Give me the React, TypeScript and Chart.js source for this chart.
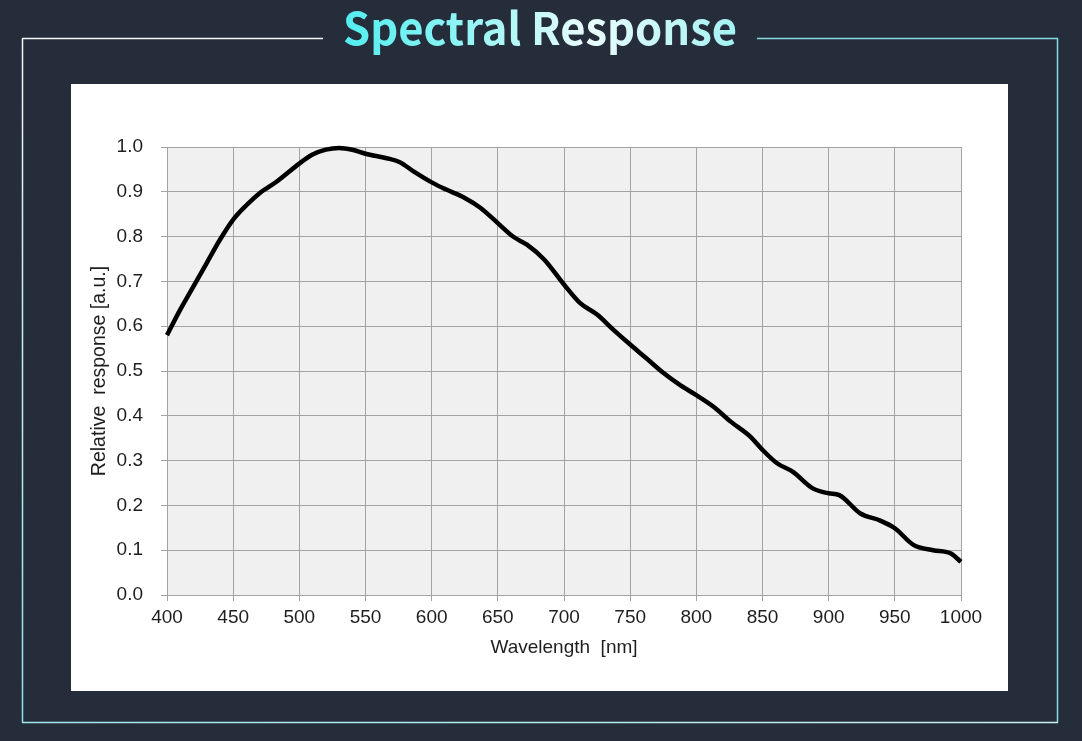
import React, { useEffect, useRef } from "react";
import { Chart, registerables } from "chart.js";

Chart.register(...registerables);

const wavelengths = [
  400, 410, 420, 430, 440, 450, 460, 470, 483, 500, 510, 520, 530, 540, 550,
  566, 576, 586, 600, 611, 624, 637, 650, 662, 672, 685, 700, 712, 725, 737,
  750, 762, 775, 787, 800, 813, 826, 841, 850, 861, 873, 888, 900, 908, 924,
  939, 950, 964, 979, 992, 1000,
];
const response = [
  0.58, 0.637, 0.689, 0.741, 0.793, 0.838, 0.87, 0.897, 0.923, 0.963, 0.983,
  0.994, 0.998, 0.994, 0.985, 0.975, 0.966, 0.946, 0.921, 0.905, 0.888, 0.864,
  0.83, 0.799, 0.782, 0.749, 0.693, 0.652, 0.626, 0.593, 0.559, 0.529, 0.496,
  0.47, 0.446, 0.42, 0.387, 0.353, 0.324, 0.294, 0.275, 0.238, 0.227, 0.223,
  0.182, 0.166, 0.149, 0.112, 0.1, 0.093, 0.074,
];
const xTicks = [400, 450, 500, 550, 600, 650, 700, 750, 800, 850, 900, 950, 1000];
const yTicks = [0, 0.1, 0.2, 0.3, 0.4, 0.5, 0.6, 0.7, 0.8, 0.9, 1.0];
const titleText = "Spectral Response";
const xTitle = "Wavelength  [nm]";
const yTitle = "Relative  response [a.u.]";

const W = 1082;
const H = 741;

const framePlugin = {
  id: "framePlugin",
  beforeDraw(chart: any) {
    const ctx = chart.ctx as CanvasRenderingContext2D;
    ctx.save();
    // background
    ctx.fillStyle = "#262d3a";
    ctx.fillRect(0, 0, W, H);
    // frame
    ctx.lineWidth = 1.5;
    const lv = ctx.createLinearGradient(0, 38, 0, 722);
    lv.addColorStop(0, "#f4f8f8");
    lv.addColorStop(1, "#8fe3e8");
    ctx.strokeStyle = lv;
    ctx.beginPath();
    ctx.moveTo(22.5, 38.5);
    ctx.lineTo(22.5, 722.5);
    ctx.stroke();
    ctx.strokeStyle = "#f0f6f6";
    ctx.beginPath();
    ctx.moveTo(22, 38.5);
    ctx.lineTo(323, 38.5);
    ctx.stroke();
    ctx.strokeStyle = "#86dde4";
    ctx.beginPath();
    ctx.moveTo(757, 38.5);
    ctx.lineTo(1057.5, 38.5);
    ctx.lineTo(1057.5, 722.5);
    ctx.stroke();
    const hb = ctx.createLinearGradient(22, 0, 1057, 0);
    hb.addColorStop(0, "#9fe8ec");
    hb.addColorStop(1, "#c8f0f2");
    ctx.strokeStyle = hb;
    ctx.beginPath();
    ctx.moveTo(22, 722.5);
    ctx.lineTo(1058, 722.5);
    ctx.stroke();
    // title
    ctx.font = "bold 45px 'Noto Sans CJK SC', 'Noto Sans', sans-serif";
    ctx.textBaseline = "alphabetic";
    ctx.textAlign = "left";
    const tw = ctx.measureText(titleText).width;
    const targetW = 394;
    const sx = targetW / tw;
    ctx.save();
    ctx.translate(343, 44.5);
    ctx.scale(sx, 1);
    const tg = ctx.createLinearGradient(0, 0, tw, 0);
    tg.addColorStop(0, "#52eef0");
    tg.addColorStop(0.3, "#8ff4f4");
    tg.addColorStop(0.62, "#eafcfc");
    tg.addColorStop(1, "#a4f2f2");
    ctx.fillStyle = tg;
    ctx.fillText(titleText, 0, 0);
    ctx.restore();
    // white panel
    ctx.fillStyle = "#ffffff";
    ctx.fillRect(71, 84, 937, 607);
    // plot background
    const a = chart.chartArea;
    ctx.fillStyle = "#f0f0f0";
    ctx.fillRect(a.left, a.top, a.right - a.left, a.bottom - a.top);
    ctx.restore();
  },
};

export default function App() {
  const ref = useRef<HTMLCanvasElement | null>(null);
  useEffect(() => {
    if (!ref.current) return;
    const points = wavelengths.map((x, i) => ({ x, y: response[i] }));
    const fontFamily = "'Liberation Sans', Arial, sans-serif";
    const chart = new Chart(ref.current, {
      type: "line",
      data: {
        datasets: [
          {
            data: points,
            borderColor: "#000000",
            borderWidth: 4.5,
            pointRadius: 0,
            tension: 0.4,
            cubicInterpolationMode: "monotone",
            fill: false,
            clip: false as any,
          },
        ],
      },
      options: {
        animation: false,
        responsive: false,
        maintainAspectRatio: false,
        devicePixelRatio: 1,
        layout: { padding: { left: 71, top: 147, right: 121, bottom: 50 } },
        plugins: {
          legend: { display: false },
          tooltip: { enabled: false },
          title: { display: false },
        },
        scales: {
          x: {
            type: "linear",
            min: 400,
            max: 1000,
            afterBuildTicks: (s: any) => {
              s.ticks = xTicks.map((v) => ({ value: v }));
            },
            afterFit: (s: any) => {
              s.height = 96;
            },
            ticks: {
              color: "#1e1e1e",
              font: { family: fontFamily, size: 19 },
              padding: 5,
              maxRotation: 0,
              autoSkip: false,
              callback: (v: any) => String(v),
            },
            grid: { color: "#a3a3a3", lineWidth: 1, tickLength: 6 },
            border: { color: "#a3a3a3" },
            title: {
              display: true,
              text: xTitle,
              color: "#1e1e1e",
              font: { family: fontFamily, size: 19 },
              padding: { top: 0, bottom: 32 },
            },
          },
          y: {
            type: "linear",
            min: 0,
            max: 1,
            afterBuildTicks: (s: any) => {
              s.ticks = yTicks.map((v) => ({ value: v }));
            },
            afterFit: (s: any) => {
              s.width = 96;
            },
            ticks: {
              color: "#1e1e1e",
              font: { family: fontFamily, size: 19 },
              padding: 18,
              callback: (v: any) => Number(v).toFixed(1),
              autoSkip: false,
            },
            grid: { color: "#a3a3a3", lineWidth: 1, tickLength: 6 },
            border: { color: "#a3a3a3" },
            title: {
              display: true,
              text: yTitle,
              color: "#1e1e1e",
              font: { family: fontFamily, size: 19.5 },
              padding: { top: 17, bottom: 0 },
            },
          },
        },
      },
      plugins: [framePlugin],
    });
    return () => chart.destroy();
  }, []);
  return (
    <div style={{ position: "fixed", left: 0, top: 0, width: W, height: H, background: "#262d3a" }}>
      <canvas ref={ref} width={W} height={H} style={{ width: W, height: H, display: "block" }} />
    </div>
  );
}
